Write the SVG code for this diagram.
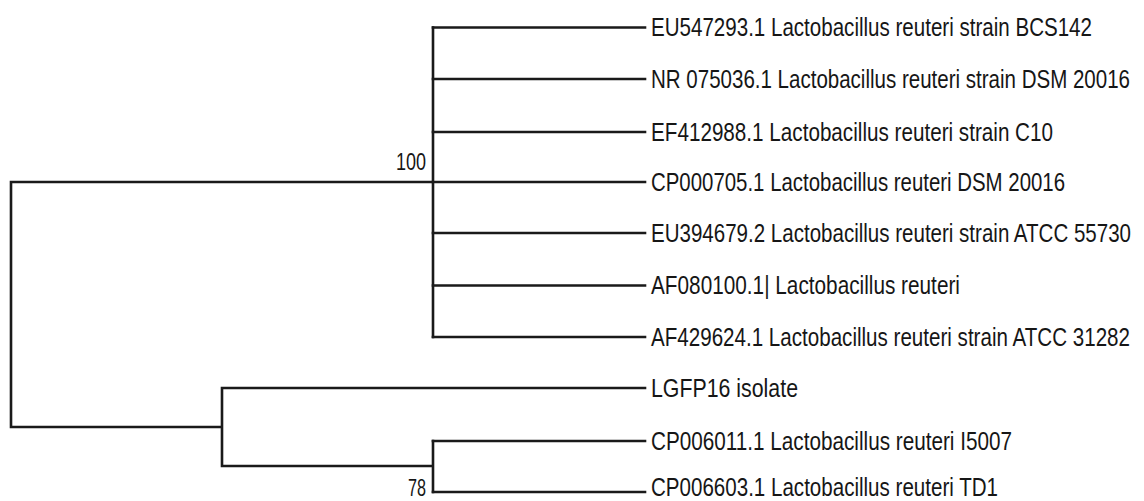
<svg xmlns="http://www.w3.org/2000/svg" width="1144" height="501" viewBox="0 0 1144 501">
<style>
.br{stroke:#1a1a1a;stroke-width:2.6;fill:none;stroke-linecap:square}
.lb{font-family:"Liberation Sans",Arial,sans-serif;font-size:26px;fill:#161616}
.bs{font-family:"Liberation Sans",Arial,sans-serif;font-size:23px;fill:#161616;text-anchor:end}
</style>
<rect width="1144" height="501" fill="#fff"/>
<g id="connectors">
<path class="br" d="M11,182V427M11,182H433M11,427H222M433,27.5V337M222,388V466M222,388H645M222,466H433M433,441V492"/>
<path class="br" d="M433,27.5H645M433,79H645M433,132H645M433,182H645M433,233H645M433,285.5H645M433,337H645M433,441H645M433,492H645"/>
</g>
<g id="n1"><text class="lb" transform="translate(651,36) scale(0.79,1)" textLength="558.2" lengthAdjust="spacingAndGlyphs">EU547293.1 Lactobacillus reuteri strain BCS142</text></g>
<g id="n2"><text class="lb" transform="translate(651,87.5) scale(0.79,1)" textLength="606.3" lengthAdjust="spacingAndGlyphs">NR 075036.1 Lactobacillus reuteri strain DSM 20016</text></g>
<g id="n3"><text class="lb" transform="translate(651,140.5) scale(0.79,1)" textLength="508.9" lengthAdjust="spacingAndGlyphs">EF412988.1 Lactobacillus reuteri strain C10</text></g>
<g id="n4"><text class="lb" transform="translate(651,190.5) scale(0.79,1)" textLength="524.1" lengthAdjust="spacingAndGlyphs">CP000705.1 Lactobacillus reuteri DSM 20016</text></g>
<g id="n5"><text class="lb" transform="translate(651,241.5) scale(0.79,1)" textLength="607.6" lengthAdjust="spacingAndGlyphs">EU394679.2 Lactobacillus reuteri strain ATCC 55730</text></g>
<g id="n6"><text class="lb" transform="translate(651,294) scale(0.79,1)" textLength="391.1" lengthAdjust="spacingAndGlyphs">AF080100.1| Lactobacillus reuteri</text></g>
<g id="n7"><text class="lb" transform="translate(651,345.5) scale(0.79,1)" textLength="606.3" lengthAdjust="spacingAndGlyphs">AF429624.1 Lactobacillus reuteri strain ATCC 31282</text></g>
<g id="n8"><text class="lb" transform="translate(651,396.5) scale(0.79,1)" textLength="186.1" lengthAdjust="spacingAndGlyphs">LGFP16 isolate</text></g>
<g id="n9"><text class="lb" transform="translate(651,449.5) scale(0.79,1)" textLength="457" lengthAdjust="spacingAndGlyphs">CP006011.1 Lactobacillus reuteri I5007</text></g>
<g id="n10"><text class="lb" transform="translate(651,495.5) scale(0.79,1)" textLength="439.2" lengthAdjust="spacingAndGlyphs">CP006603.1 Lactobacillus reuteri TD1</text></g>
<g id="b100"><text class="bs" x="426" y="170" textLength="30" lengthAdjust="spacingAndGlyphs">100</text></g>
<g id="b78"><text class="bs" x="426" y="496" textLength="18" lengthAdjust="spacingAndGlyphs">78</text></g>
</svg>
